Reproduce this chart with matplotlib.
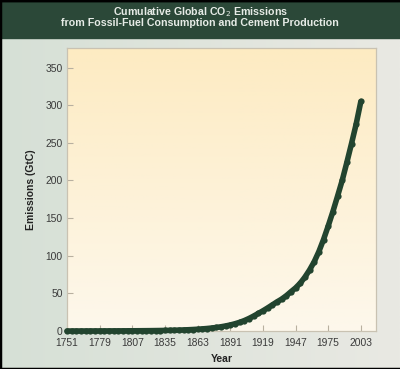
import matplotlib.pyplot as plt
import numpy as np

# cumulative emissions, every 4 years
years = list(range(1751, 2004, 4))
emissions = [0.003, 0.015, 0.03, 0.045, 0.06, 0.075, 0.09, 0.11, 0.13, 0.15,
             0.17, 0.19, 0.22, 0.25, 0.29, 0.33, 0.38, 0.43, 0.49, 0.57,
             0.66, 0.76, 0.88, 1.03, 1.21, 1.42, 1.68, 1.99, 2.35, 2.80,
             3.32, 3.94, 4.68, 5.6, 6.7, 8.0, 9.6, 11.5, 13.8, 16.6,
             19.8, 23.3, 26.8, 30.6, 34.6, 38.6, 42.3, 46.8, 52.1, 57.2,
             63.5, 71.5, 81.0, 92.0, 105.5, 121.5, 139.5, 158.5, 179.0, 200.0,
             224.0, 249.0, 275.0, 305.0]
xticks = [1751, 1779, 1807, 1835, 1863, 1891, 1919, 1947, 1975, 2003]
yticks = [0, 50, 100, 150, 200, 250, 300, 350]

plt.rcParams['font.family'] = ['Liberation Sans', 'DejaVu Sans']

fig = plt.figure(figsize=(4.0, 3.69), dpi=100)

# figure background gradient (greenish grey)
bg = fig.add_axes([0, 0, 1, 1], zorder=-10)
grad = np.linspace(0, 1, 256).reshape(1, -1)
bg.imshow(grad, aspect='auto', extent=[0, 1, 0, 1],
          cmap=plt.matplotlib.colors.LinearSegmentedColormap.from_list('bg', ['#d6e0d6', '#e9e9e3']))
bg.add_patch(plt.Rectangle((0, 1 - 38 / 369), 1, 38 / 369, color='#2b4838'))
bg.set_xlim(0, 1)
bg.set_ylim(0, 1)
bg.axis('off')
for s in [(0, 0, 1, 0), (0, 0, 0, 1), (1, 1, 0, 1), (0, 1, 1, 1)]:
    bg.plot([s[0], s[2]], [s[1], s[3]], color='black', lw=2.5, transform=bg.transAxes)

fig.text(0.5, 1 - 12 / 369, 'Cumulative Global CO$_2$ Emissions', ha='center', va='center',
         color='#e6ebe6', fontsize=7.7, fontweight='bold')
fig.text(0.5, 1 - 23 / 369, 'from Fossil-Fuel Consumption and Cement Production', ha='center',
         va='center', color='#e6ebe6', fontsize=7.7, fontweight='bold')

ax = fig.add_axes([67 / 400, 1 - 331 / 369, (376 - 67) / 400, (331 - 48) / 369])
ax.set_facecolor('none')
vgrad = np.linspace(0, 1, 256).reshape(-1, 1)
ax.imshow(vgrad, aspect='auto', extent=[0, 1, 0, 1], transform=ax.transAxes, zorder=0,
          cmap=plt.matplotlib.colors.LinearSegmentedColormap.from_list('ax', ['#fdf8ec', '#fdebc2']),
          origin='lower')

ax.plot(years, emissions, color='#22442f', lw=4, marker='o', markersize=4.5,
        markeredgewidth=0, clip_on=False, zorder=3, solid_capstyle='round')

ax.set_xlim(1751, 2016)
ax.set_ylim(0, 376)
ax.set_xticks(xticks)
ax.set_yticks(yticks)
ax.tick_params(direction='in', length=4, width=0.8, color='#b8b0a0', labelsize=7.4,
               labelcolor='#3a3a3a', pad=3)
ax.tick_params(axis='x', pad=5)
for s in ax.spines.values():
    s.set_color('#c9c2b2')
    s.set_linewidth(0.9)
ax.set_xlabel('Year', fontsize=7.5, fontweight='bold', color='#222222', labelpad=4)
ax.set_ylabel('Emissions (GtC)', fontsize=7.5, fontweight='bold', color='#222222', labelpad=7)

fig.savefig('out.png', dpi=100)
